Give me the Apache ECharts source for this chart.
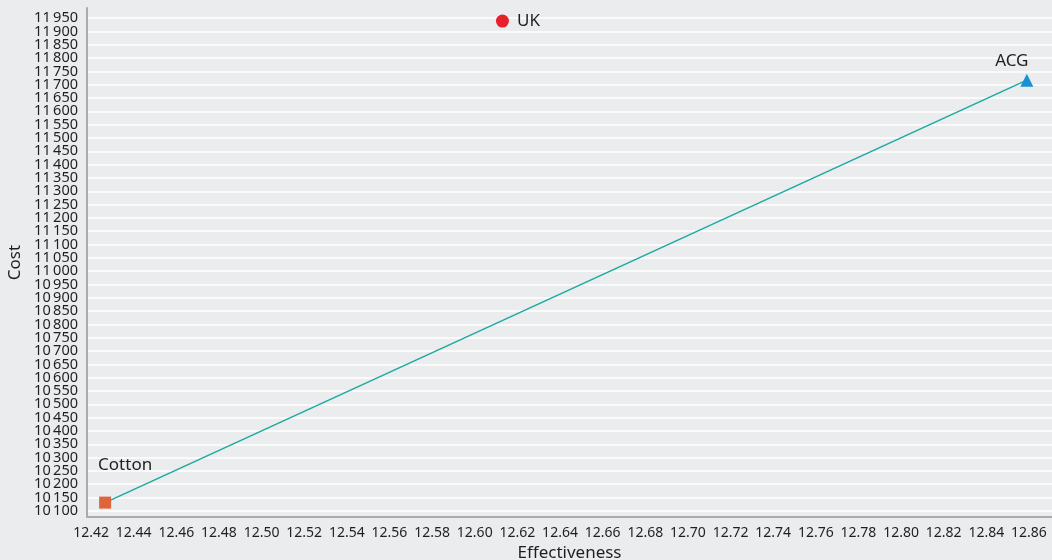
<!DOCTYPE html>
<html>
<head>
<meta charset="utf-8">
<script src="https://cdn.jsdelivr.net/npm/echarts@6/dist/echarts.min.js"></script>
<style>
  html, body { margin: 0; padding: 0; background: #ebeced; }
  #chart { width: 1052px; height: 560px; }
</style>
</head>
<body>
<div id="chart"></div>
<script>
  // strategies: effectiveness vs cost
  const names = ['Cotton', 'UK', 'ACG']
  const effectiveness = [12.4266, 12.613, 12.859]
  const cost = [10131, 11939, 11717]
  // frontier joins Cotton and ACG
  const frontier = ['Cotton', 'ACG']

  // tick labels
  const xTicks = []
  for (let v = 1242; v <= 1286; v += 2) xTicks.push(v / 100)
  const yTicks = []
  for (let v = 10100; v <= 11950; v += 50) yTicks.push(v)
  // labels sit 13px apart, so they are split over two stacked axes
  // (otherwise echarts drops the end labels as overlapping)
  const yTicksA = yTicks.filter((v, i) => i % 2 === 0)
  const yTicksB = yTicks.filter((v, i) => i % 2 === 1)

  const colors = { Cotton: '#e0643a', UK: '#e8202a', ACG: '#1a90d2' }
  const symbols = { Cotton: 'rect', UK: 'circle', ACG: 'triangle' }
  const sizes = { Cotton: 12, UK: 13, ACG: 13 }
  const labelPos = {
    Cotton: { position: 'top', distance: 6, offset: [20, -17] },
    UK: { position: 'right', distance: 8, offset: [0, 0] },
    ACG: { position: 'top', distance: 4, offset: [-15, 0] }
  }

  const fmtCost = (v) => {
    const s = String(v)
    return s.slice(0, s.length - 3) + '\u2009' + s.slice(-3)
  }

  const font = 'Noto Sans'
  const textColor = '#1f1f1f'
  const yMin = 10077
  const yMax = 11988
  const chart = echarts.init(document.getElementById('chart'))

  const yLabel = (vals) => ({
    customValues: vals,
    formatter: fmtCost,
    color: textColor,
    fontFamily: font,
    fontSize: 14.5,
    margin: 9,
    showMinLabel: true,
    showMaxLabel: true,
    hideOverlap: false
  })

  const pointSeries = names.map((n, i) => ({
    type: 'scatter',
    name: n,
    symbol: symbols[n],
    symbolSize: sizes[n],
    itemStyle: { color: colors[n], opacity: 1 },
    data: [[effectiveness[i], cost[i]]],
    label: {
      show: true,
      formatter: n,
      color: textColor,
      fontFamily: font,
      fontSize: 17,
      ...labelPos[n]
    },
    z: 3
  }))

  chart.setOption({
    backgroundColor: '#ebeced',
    animation: false,
    grid: { left: 87, right: 0, top: 8, bottom: 43, outerBoundsMode: 'none' },
    xAxis: {
      type: 'value',
      min: 12.4181,
      max: 12.8708,
      name: 'Effectiveness',
      nameLocation: 'middle',
      nameGap: 19,
      nameTextStyle: { color: textColor, fontFamily: font, fontSize: 17 },
      axisLine: { show: true, lineStyle: { color: '#a9aaac', width: 2 } },
      axisTick: { show: false, customValues: xTicks },
      splitLine: { show: false },
      axisLabel: {
        customValues: xTicks,
        formatter: (v) => v.toFixed(2),
        color: textColor,
        fontFamily: font,
        fontSize: 14,
        margin: 9,
        hideOverlap: false
      }
    },
    yAxis: [
      {
        type: 'value',
        min: yMin,
        max: yMax,
        position: 'left',
        name: 'Cost',
        nameLocation: 'middle',
        nameGap: 57,
        nameTextStyle: { color: textColor, fontFamily: font, fontSize: 17 },
        axisLine: { show: true, lineStyle: { color: '#a9aaac', width: 2 } },
        axisTick: { show: false, customValues: yTicksA },
        splitLine: { show: true, lineStyle: { color: '#ffffff', width: 1.5 } },
        axisLabel: yLabel(yTicksA),
        z: 1
      },
      {
        type: 'value',
        min: yMin,
        max: yMax,
        position: 'left',
        offset: 0,
        axisLine: { show: false },
        axisTick: { show: false, customValues: yTicksB },
        splitLine: { show: true, lineStyle: { color: '#ffffff', width: 1.5 } },
        axisLabel: yLabel(yTicksB),
        z: 0
      }
    ],
    series: [
      {
        type: 'line',
        name: 'frontier',
        symbol: 'none',
        lineStyle: { color: '#1aaaa0', width: 1.5 },
        data: frontier.map((n) => {
          const i = names.indexOf(n)
          return [effectiveness[i], cost[i]]
        }),
        z: 2
      },
      ...pointSeries
    ]
  })
</script>
</body>
</html>
